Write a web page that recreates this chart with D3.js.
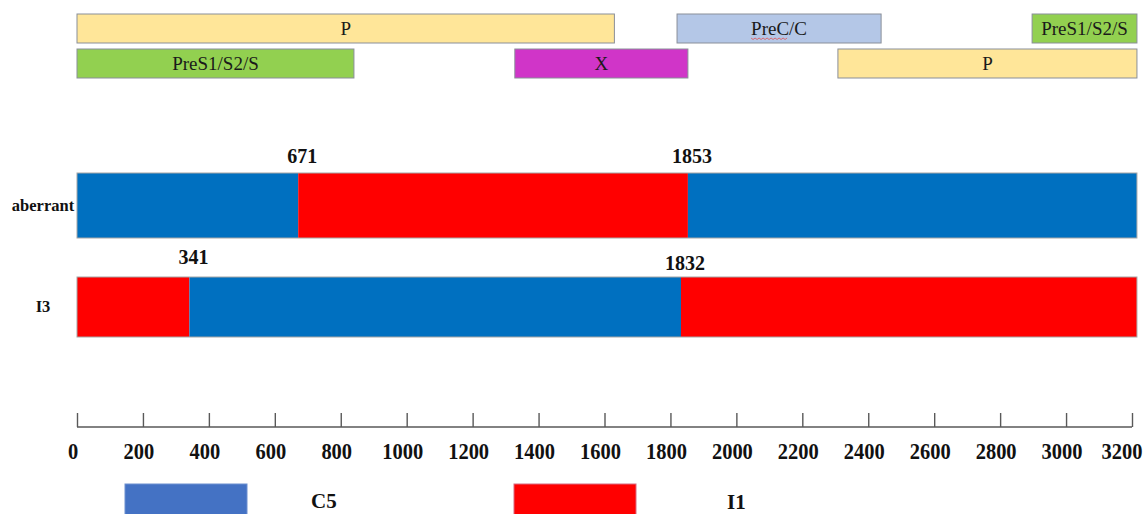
<!DOCTYPE html>
<html>
<head>
<meta charset="utf-8">
<script src="https://cdn.jsdelivr.net/npm/d3@7"></script>
<style>
  html, body { margin: 0; padding: 0; background: #fff; }
  svg { display: block; }
</style>
</head>
<body>
<svg id="chart" width="1148" height="514"></svg>
<script>
// HBV genome length (nt) and ruler ticks
const genomeLength = 3215;
const tickValues = [0, 200, 400, 600, 800, 1000, 1200, 1400, 1600, 1800, 2000, 2200, 2400, 2600, 2800, 3000, 3200];

// ORF annotation (genome coordinates), two stacked rows
const genes = [
  { name: "P",          start: 0,    end: 1630, row: 0, fill: "#FFE699" },
  { name: "PreC/C",     start: 1820, end: 2439, row: 0, fill: "#B4C7E7" },
  { name: "PreS1/S2/S", start: 2897, end: 3215, row: 0, fill: "#92D050" },
  { name: "PreS1/S2/S", start: 0,    end: 840,  row: 1, fill: "#92D050" },
  { name: "X",          start: 1328, end: 1853, row: 1, fill: "#D035C8" },
  { name: "P",          start: 2308, end: 3215, row: 1, fill: "#FFE699" }
];

// Recombinant strains and their genotype segments
const strains = ["aberrant", "I3"];
const segments = [
  { strain: "aberrant", start: 0,    end: 671,  type: "C5" },
  { strain: "aberrant", start: 671,  end: 1853, type: "I1" },
  { strain: "aberrant", start: 1853, end: 3215, type: "C5" },
  { strain: "I3",       start: 0,    end: 341,  type: "I1" },
  { strain: "I3",       start: 341,  end: 1832, type: "C5" },
  { strain: "I3",       start: 1832, end: 3215, type: "I1" }
];
// Breakpoints labelled above each bar
const breakpoints = [
  { strain: "aberrant", pos: 671 },
  { strain: "aberrant", pos: 1853 },
  { strain: "I3",       pos: 341 },
  { strain: "I3",       pos: 1832 }
];

const legendKeys = ["C5", "I1"];
const typeColor = { C5: "#0070C0", I1: "#FF0000" };
const legendColor = { C5: "#4472C4", I1: "#FF0000" };

const svg = d3.select("#chart");
const serif = "'Liberation Serif', 'DejaVu Serif', serif";

const x = d3.scaleLinear().domain([0, 3200]).range([77, 1132]);

// ---- ORF boxes ----
const geneRowY = d3.scaleOrdinal().domain([0, 1]).range([14, 49]);
const geneH = 29;
const g = svg.append("g").attr("class", "genes");
g.selectAll("rect").data(genes).join("rect")
  .attr("x", d => x(d.start))
  .attr("y", d => geneRowY(d.row))
  .attr("width", d => x(d.end) - x(d.start))
  .attr("height", geneH)
  .attr("fill", d => d.fill)
  .attr("stroke", "#8a8f99")
  .attr("stroke-width", 1);
g.selectAll("text").data(genes).join("text")
  .attr("x", d => (x(d.start) + x(d.end)) / 2)
  .attr("y", d => geneRowY(d.row) + geneH / 2 + 6)
  .attr("text-anchor", "middle")
  .attr("font-family", serif)
  .attr("font-size", 19)
  .attr("fill", "#1a1a1a")
  .text(d => d.name);

// spell-check squiggle under "PreC"
{
  const pc = genes[1];
  const cx = (x(pc.start) + x(pc.end)) / 2;
  const x0 = cx - 28, x1 = cx + 8, yy = geneRowY(0) + 24;
  let p = `M${x0},${yy}`;
  for (let xx = x0, i = 0; xx < x1; xx += 2, i++) p += ` L${xx + 2},${yy + (i % 2 ? 0 : 1.5)}`;
  g.append("path").attr("d", p).attr("fill", "none").attr("stroke", "#e05050").attr("stroke-width", 0.8);
}

// ---- strain bars ----
const barY = d3.scaleOrdinal().domain(strains).range([173, 277]);
const barH = { aberrant: 65, I3: 60 };
const bars = svg.append("g").attr("class", "bars");
bars.selectAll("rect.seg").data(segments).join("rect")
  .attr("class", "seg")
  .attr("x", d => x(d.start))
  .attr("y", d => barY(d.strain))
  .attr("width", d => x(d.end) - x(d.start))
  .attr("height", d => barH[d.strain])
  .attr("fill", d => typeColor[d.type]);
bars.selectAll("rect.outline").data(strains).join("rect")
  .attr("class", "outline")
  .attr("x", x(0))
  .attr("y", d => barY(d))
  .attr("width", x(genomeLength) - x(0))
  .attr("height", d => barH[d])
  .attr("fill", "none")
  .attr("stroke", "#a6a6a6")
  .attr("stroke-width", 1);

// strain names
svg.append("g").selectAll("text").data(strains).join("text")
  .attr("x", 43)
  .attr("y", d => barY(d) + barH[d] / 2 + 5)
  .attr("text-anchor", "middle")
  .attr("font-family", serif)
  .attr("font-weight", "bold")
  .attr("font-size", 16.5)
  .attr("fill", "#111")
  .text(d => d);

// breakpoint labels
const labelLift = { 671: 10, 1853: 10, 341: 13, 1832: 7 };
svg.append("g").selectAll("text").data(breakpoints).join("text")
  .attr("x", d => x(d.pos) + 4)
  .attr("y", d => barY(d.strain) - labelLift[d.pos])
  .attr("text-anchor", "middle")
  .attr("font-family", serif)
  .attr("font-weight", "bold")
  .attr("font-size", 20)
  .attr("fill", "#111")
  .text(d => d.pos);

// ---- genome ruler ----
const axisY = 427;
const axis = d3.axisTop(x).tickValues(tickValues).tickSize(14).tickFormat("");
const ax = svg.append("g").attr("transform", `translate(0,${axisY})`).call(axis);
ax.select(".domain").attr("stroke", "#595959").attr("stroke-width", 1.4)
  .attr("d", `M${x(0)},0H${x(3200)}`);
ax.selectAll(".tick line").attr("stroke", "#595959").attr("stroke-width", 1.4);

const lastTick = tickValues[tickValues.length - 1];
svg.append("g").selectAll("text").data(tickValues).join("text")
  .attr("transform", d => `translate(${x(d) - (d === lastTick ? 10 : 4)},459) scale(1,1.15)`)
  .attr("text-anchor", "middle")
  .attr("font-family", serif)
  .attr("font-weight", "bold")
  .attr("font-size", 20.5)
  .attr("fill", "#111")
  .text(d => d);

// ---- legend ----
const legX = d3.scaleOrdinal().domain(legendKeys).range([125, 514]);
const leg = svg.append("g").selectAll("g").data(legendKeys).join("g")
  .attr("transform", d => `translate(${legX(d)},484)`);
leg.append("rect")
  .attr("width", 122).attr("height", 34)
  .attr("fill", d => legendColor[d])
  .attr("stroke", d => d === "C5" ? "#6d8fd0" : "#d86a80")
  .attr("stroke-width", 1);
leg.append("text")
  .attr("x", d => d === "C5" ? 186 : 213)
  .attr("y", d => d === "C5" ? 24 : 25)
  .attr("font-family", serif)
  .attr("font-weight", "bold")
  .attr("font-size", 21)
  .attr("fill", "#111")
  .text(d => d);
</script>
</body>
</html>
